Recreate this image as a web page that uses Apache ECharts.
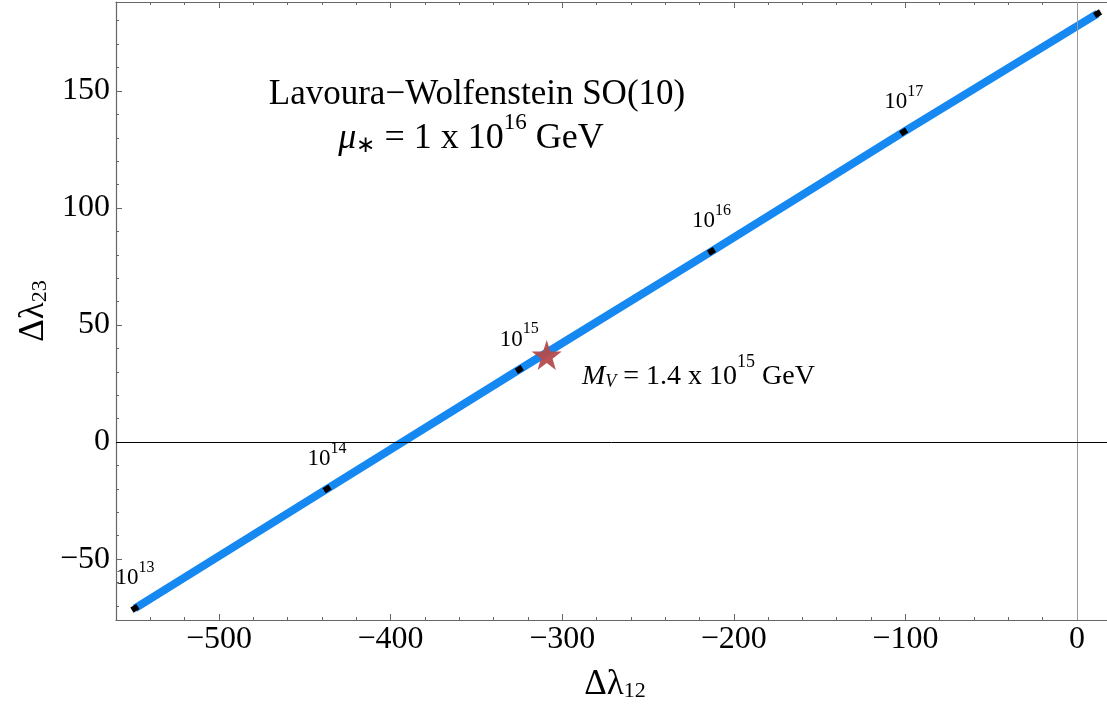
<!DOCTYPE html>
<html>
<head>
<meta charset="utf-8">
<script src="https://cdn.jsdelivr.net/npm/echarts@6/dist/echarts.min.js"></script>
<style>
  html, body { margin: 0; padding: 0; background: #fff; }
  #main { width: 1107px; height: 704px; }
</style>
</head>
<body>
<div id="main"></div>
<script>
// 跑动曲线上的点 (Δλ12, Δλ23)，以及对应的能标指数
const scaleExp = ['13', '14', '15', '16', '17', ''];
const dl12 = [-549, -437, -325, -213, -101, 12];
const dl23 = [-71, -20, 31, 81.5, 132.5, 183];
// M_V = 1.4 x 10^15 GeV
const starPoint = [-309, 37.2];

// 刻度
const xMajor = [-500, -400, -300, -200, -100, 0];
const xMinor = [-540, -520, -480, -460, -440, -420, -380, -360, -340, -320, -280, -260,
  -240, -220, -180, -160, -140, -120, -80, -60, -40, -20];
const yMajor = [-50, 0, 50, 100, 150];
const yMinor = [-70, -60, -40, -30, -20, -10, 10, 20, 30, 40, 60, 70, 80, 90, 110, 120,
  130, 140, 160, 170, 180];

const serif = 'Liberation Serif';
const frameColor = '#666';

const chart = echarts.init(document.getElementById('main'));

function axisCommon(extra) {
  return Object.assign({
    type: 'value',
    splitLine: { show: false },
    axisLine: { show: true, onZero: false, lineStyle: { color: frameColor, width: 1.2 } },
    axisTick: { show: false },
    axisLabel: { show: false }
  }, extra);
}

const minusFmt = v => (v < 0 ? '\u2212' + Math.abs(v) : String(v));

const xRange = { min: -560, max: 17.5 };
const yRange = { min: -76, max: 188 };

const xAxes = [
  // 下边框：主刻度 + 标签
  axisCommon(Object.assign({
    position: 'bottom',
    axisTick: { show: true, inside: true, length: 6, customValues: xMajor, lineStyle: { color: frameColor } },
    axisLabel: {
      show: true, customValues: xMajor, margin: 4, color: '#000',
      fontFamily: serif, fontSize: 32, formatter: minusFmt
    }
  }, xRange)),
  // 下边框次刻度
  axisCommon(Object.assign({
    position: 'bottom',
    axisLine: { show: false, onZero: false },
    axisTick: { show: true, inside: true, length: 3, customValues: xMinor, lineStyle: { color: frameColor } }
  }, xRange)),
  // 上边框
  axisCommon(Object.assign({
    position: 'top',
    axisTick: { show: true, inside: true, length: 6, customValues: xMajor, lineStyle: { color: frameColor } }
  }, xRange)),
  axisCommon(Object.assign({
    position: 'top',
    axisLine: { show: false, onZero: false },
    axisTick: { show: true, inside: true, length: 3, customValues: xMinor, lineStyle: { color: frameColor } }
  }, xRange))
];

const yAxes = [
  axisCommon(Object.assign({
    position: 'left',
    axisTick: { show: true, inside: true, length: 6, customValues: yMajor, lineStyle: { color: frameColor } },
    axisLabel: {
      show: true, customValues: yMajor, margin: 6, color: '#000',
      fontFamily: serif, fontSize: 32, formatter: minusFmt
    }
  }, yRange)),
  axisCommon(Object.assign({
    position: 'left',
    axisLine: { show: false, onZero: false },
    axisTick: { show: true, inside: true, length: 3, customValues: yMinor, lineStyle: { color: frameColor } }
  }, yRange))
];

const linePoints = dl12.map((x, i) => [x, dl23[i]]);
const markPoints = dl12.map((x, i) => ({ value: [x, dl23[i]], exp: scaleExp[i] }));

// 上下标用的 rich 样式
function richSet(base, small, lh) {
  return {
    n: { fontFamily: serif, fontSize: base, color: '#000', verticalAlign: 'bottom', lineHeight: lh },
    i: { fontFamily: serif, fontStyle: 'italic', fontSize: base, color: '#000', verticalAlign: 'bottom', lineHeight: lh },
    sup: { fontFamily: serif, fontSize: small, color: '#000', verticalAlign: 'top', lineHeight: Math.round(lh * 0.55) },
    sub: { fontFamily: serif, fontSize: small, color: '#000', verticalAlign: 'bottom', lineHeight: Math.round(lh * 0.6) },
    isub: { fontFamily: serif, fontStyle: 'italic', fontSize: small, color: '#000', verticalAlign: 'bottom', lineHeight: Math.round(lh * 0.6) }
  };
}

const option = {
  backgroundColor: '#fff',
  animation: false,
  grid: { left: 116, right: 0, top: 2, bottom: 84, containLabel: false },
  xAxis: xAxes,
  yAxis: yAxes,
  series: [
    {
      // 零线
      type: 'line',
      data: [],
      z: 1,
      silent: true,
      markLine: {
        silent: true,
        symbol: ['none', 'none'],
        label: { show: false },
        animation: false,
        data: [
          { xAxis: 0, lineStyle: { color: '#9a9a9a', width: 1, type: 'solid' } },
          { yAxis: 0, lineStyle: { color: '#000', width: 1, type: 'solid' } }
        ]
      }
    },
    {
      type: 'line',
      data: linePoints,
      z: 3,
      showSymbol: false,
      lineStyle: { color: '#1588f2', width: 8, cap: 'butt' }
    },
    {
      type: 'scatter',
      z: 4,
      data: markPoints,
      symbol: 'rect',
      symbolSize: [7, 6],
      symbolRotate: 32,
      itemStyle: { color: '#000', opacity: 1 },
      label: {
        show: true,
        position: 'top',
        distance: 14,
        color: '#000',
        formatter: p => (p.data.exp ? '{n|10}{sup|' + p.data.exp + '}' : ''),
        rich: richSet(23, 16, 30)
      }
    },
    {
      type: 'scatter',
      z: 5,
      data: [starPoint],
      symbol: 'path://M50,0 L61.8,35.1 L98.1,35.1 L68.8,56.7 L79.4,90.9 L50,70 L20.6,90.9 L31.2,56.7 L1.9,35.1 L38.2,35.1 Z',
      symbolSize: 30,
      itemStyle: { color: '#b44b4d', opacity: 0.95 }
    }
  ],
  graphic: [
    {
      type: 'text', x: 477, y: 90,
      style: {
        text: '{n|Lavoura\u2212Wolfenstein SO(10)}',
        align: 'center', verticalAlign: 'middle',
        rich: richSet(35, 23, 44)
      }
    },
    {
      type: 'text', x: 471, y: 134,
      style: {
        text: '{i|\u03bc}{sub|\u2217}{n| = 1 x 10}{sup|16}{n| GeV}',
        align: 'center', verticalAlign: 'middle',
        rich: richSet(36, 23, 46)
      }
    },
    {
      type: 'text', x: 582, y: 372,
      style: {
        text: '{i|M}{isub|V}{n| = 1.4 x 10}{sup|15}{n| GeV}',
        align: 'left', verticalAlign: 'middle',
        rich: richSet(28, 18, 38)
      }
    },
    {
      type: 'text', x: 615, y: 680,
      style: {
        text: '{n|\u0394\u03bb}{sub|12}',
        align: 'center', verticalAlign: 'middle',
        rich: richSet(35, 22, 44)
      }
    },
    {
      type: 'text', x: 29, y: 311, rotation: Math.PI / 2,
      style: {
        text: '{n|\u0394\u03bb}{sub|23}',
        align: 'center', verticalAlign: 'middle',
        rich: richSet(35, 22, 44)
      }
    }
  ]
};

chart.setOption(option);
</script>
</body>
</html>
